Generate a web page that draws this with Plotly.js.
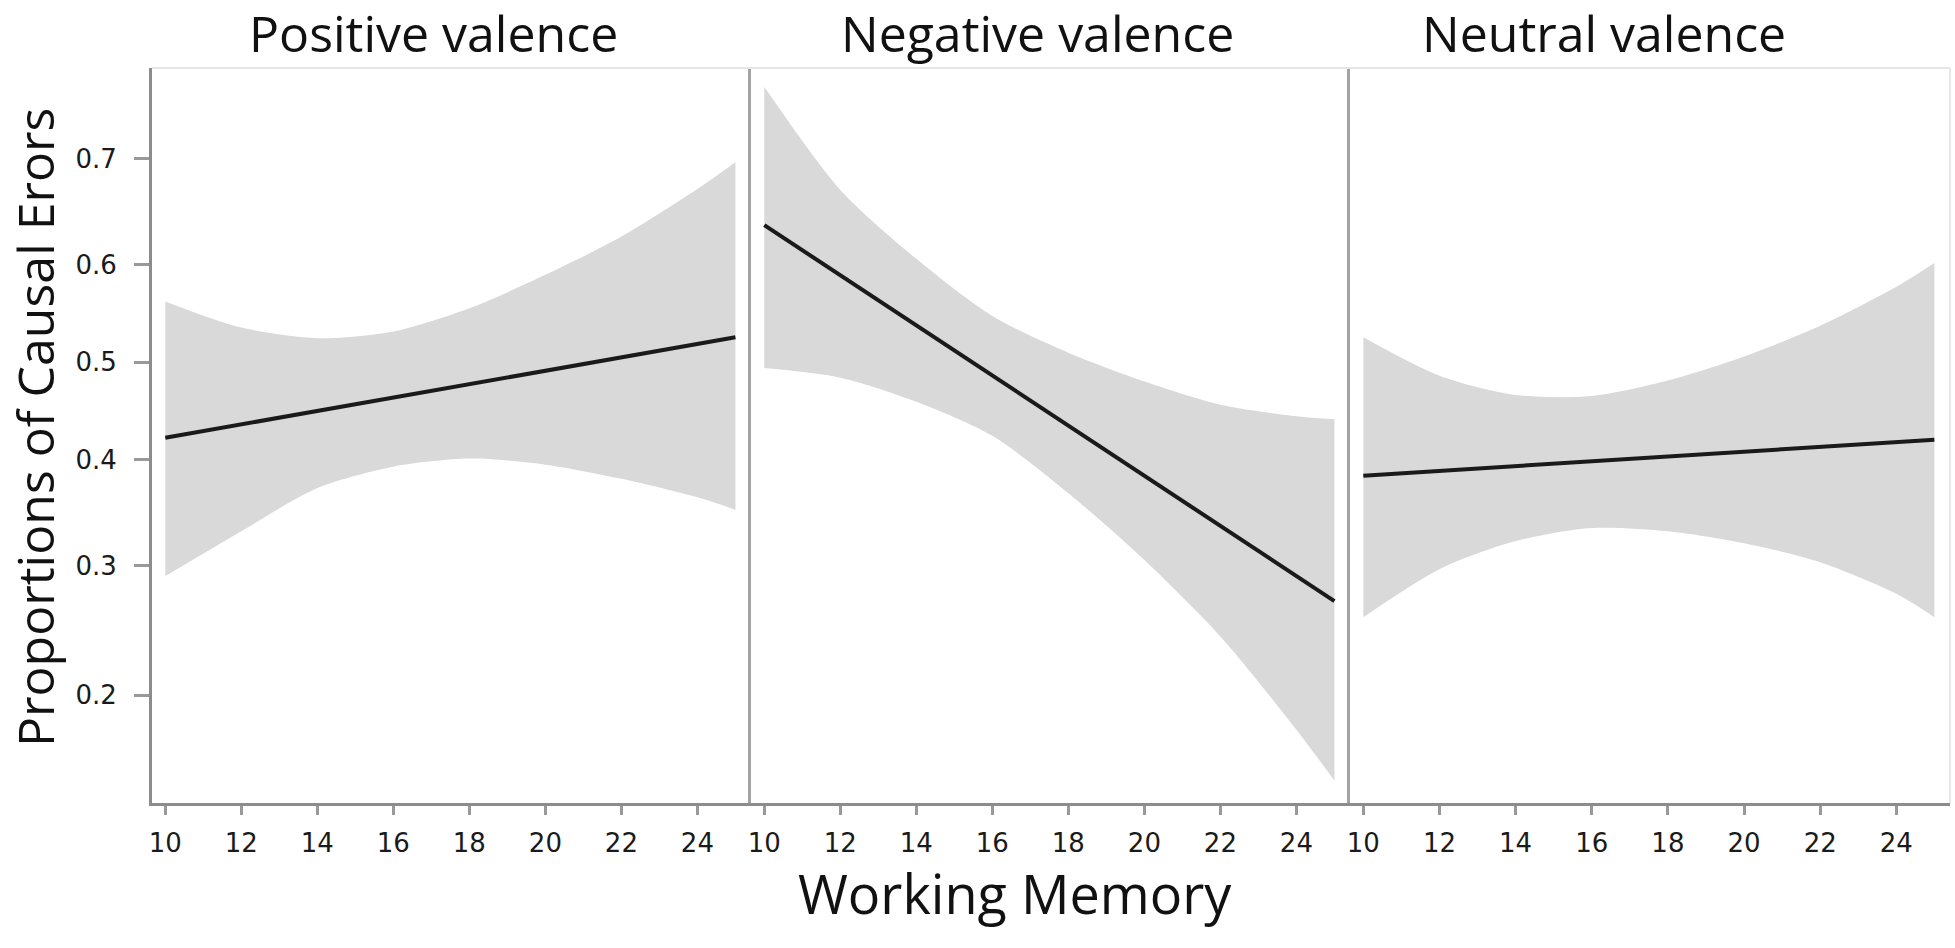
<!DOCTYPE html>
<html>
<head>
<meta charset="utf-8">
<script src="https://cdn.plot.ly/plotly-3.0.1.min.js"></script>
<style>
  html, body { margin: 0; padding: 0; background: #fff; }
  #plot { width: 1955px; height: 948px; }
</style>
</head>
<body>
<div id="plot"></div>
<script>
// values (proportions, plotted on a logit scale)
const wmGrid = [10, 12, 14, 16, 18, 20, 22, 24, 25];
const fitX = [10, 25];

const posUpper = [0.563, 0.536, 0.525, 0.532, 0.556, 0.590, 0.628, 0.673, 0.697];
const posLower = [0.291, 0.331, 0.372, 0.393, 0.401, 0.395, 0.381, 0.363, 0.351];
const posFit = [0.422, 0.526];

const negUpper = [0.759, 0.672, 0.606, 0.548, 0.510, 0.480, 0.456, 0.444, 0.441];
const negLower = [0.494, 0.484, 0.459, 0.424, 0.367, 0.305, 0.242, 0.178, 0.149];
const negFit = [0.639, 0.270];

const neuUpper = [0.526, 0.486, 0.466, 0.465, 0.481, 0.506, 0.538, 0.578, 0.602];
const neuLower = [0.257, 0.297, 0.322, 0.334, 0.331, 0.320, 0.303, 0.276, 0.257];
const neuFit = [0.384, 0.420];

const panelTitles = ['Positive valence', 'Negative valence', 'Neutral valence'];
const yTicks = [0.2, 0.3, 0.4, 0.5, 0.6, 0.7];
const xTicks = [10, 12, 14, 16, 18, 20, 22, 24];

const logit = p => Math.log(p / (1 - p));

const panels = [
    { upper: posUpper, lower: posLower, fit: posFit },
    { upper: negUpper, lower: negLower, fit: negFit },
    { upper: neuUpper, lower: neuLower, fit: neuFit }
];

const W = 1955, H = 948;
const edges = [152, 751, 1350, 1950];
const plotTop = 68, plotBottom = 803;
const titleCenters = [433, 1037, 1604];

const traces = [];
panels.forEach((p, i) => {
    const xa = i === 0 ? 'x' : 'x' + (i + 1);
    const ya = i === 0 ? 'y' : 'y' + (i + 1);
    traces.push({
        type: 'scatter', mode: 'lines', xaxis: xa, yaxis: ya,
        x: wmGrid, y: p.lower.map(logit),
        line: { color: 'rgba(0,0,0,0)', width: 0, shape: 'spline', smoothing: 0.8 },
        hoverinfo: 'skip', showlegend: false
    });
    traces.push({
        type: 'scatter', mode: 'lines', xaxis: xa, yaxis: ya,
        x: wmGrid, y: p.upper.map(logit),
        fill: 'tonexty', fillcolor: '#d9d9d9',
        line: { color: 'rgba(0,0,0,0)', width: 0, shape: 'spline', smoothing: 0.8 },
        hoverinfo: 'skip', showlegend: false
    });
    traces.push({
        type: 'scatter', mode: 'lines', xaxis: xa, yaxis: ya,
        x: fitX, y: p.fit.map(logit),
        line: { color: '#1a1a1a', width: 4 },
        showlegend: false
    });
});

const yRange = [logit(0.1376), logit(0.773)];
const xRange = [9.65, 25.41];
const yDom = [1 - plotBottom / H, 1 - plotTop / H];

const tickFont = { family: 'DejaVu Sans', size: 26, color: '#1a1a1a' };
const layout = {
    width: W, height: H,
    margin: { l: 0, r: 0, t: 0, b: 0 },
    paper_bgcolor: '#fff', plot_bgcolor: '#fff',
    showlegend: false,
    shapes: [
        { type: 'line', xref: 'paper', yref: 'paper', x0: edges[0] / W, x1: edges[3] / W,
          y0: yDom[1], y1: yDom[1], line: { color: '#e6e6e6', width: 2 } },
        { type: 'line', xref: 'paper', yref: 'paper', x0: edges[3] / W, x1: edges[3] / W,
          y0: yDom[0], y1: yDom[1], line: { color: '#e6e6e6', width: 2 } }
    ],
    annotations: [],
};

for (let i = 0; i < 3; i++) {
    const sfx = i === 0 ? '' : String(i + 1);
    layout['xaxis' + sfx] = {
        domain: [edges[i] / W, edges[i + 1] / W],
        range: xRange, anchor: 'y' + sfx,
        showgrid: false, zeroline: false,
        showline: true, linecolor: '#8c8c8c', linewidth: 3,
        ticks: 'outside', ticklen: 9, tickwidth: 3, tickcolor: '#999',
        tickvals: xTicks, ticktext: xTicks.map(String),
        tickfont: tickFont, ticklabelstandoff: 6
    };
    layout['yaxis' + sfx] = {
        domain: yDom, range: yRange, anchor: 'x' + sfx,
        showgrid: false, zeroline: false,
        showline: true, linecolor: i === 0 ? '#8c8c8c' : '#a3a3a3', linewidth: 3,
        ticks: i === 0 ? 'outside' : '', ticklen: 15, tickwidth: 3, tickcolor: '#999',
        tickvals: yTicks.map(logit), ticktext: yTicks.map(String),
        showticklabels: i === 0,
        tickfont: tickFont, ticklabelstandoff: 12
    };
    layout.annotations.push({
        text: panelTitles[i], xref: 'paper', yref: 'paper',
        x: titleCenters[i] / W, y: 1 - 33 / H, xanchor: 'center', yanchor: 'middle',
        showarrow: false, font: { family: 'Open Sans', size: 50, color: '#111' }
    });
}

layout.annotations.push({
    text: 'Working Memory', xref: 'paper', yref: 'paper',
    x: 1015 / W, y: 1 - 893 / H, xanchor: 'center', yanchor: 'middle',
    showarrow: false, font: { family: 'Open Sans', size: 54, color: '#111' }
});
layout.annotations.push({
    text: 'Proportions of Causal Erors', xref: 'paper', yref: 'paper',
    x: 35 / W, y: 1 - 428 / H, xanchor: 'center', yanchor: 'middle', textangle: -90,
    showarrow: false, font: { family: 'Open Sans', size: 50, color: '#111' }
});

Plotly.newPlot('plot', traces, layout, { staticPlot: true });
</script>
</body>
</html>
